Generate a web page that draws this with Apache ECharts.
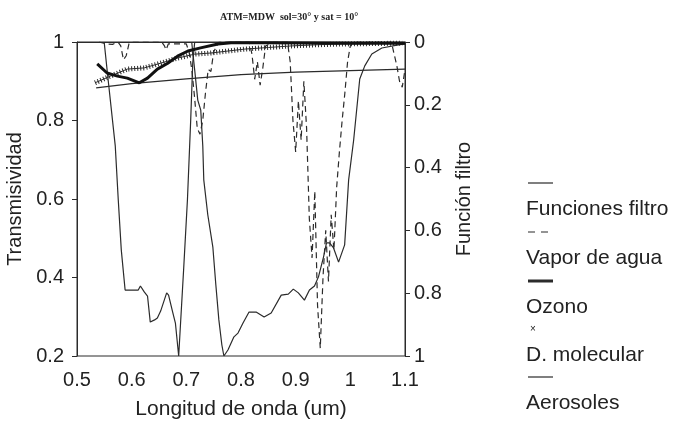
<!DOCTYPE html>
<html>
<head>
<meta charset="utf-8">
<script src="https://cdn.jsdelivr.net/npm/echarts@6/dist/echarts.min.js"></script>
<style>
  html, body { margin: 0; padding: 0; background: #fff; }
  #chart { width: 675px; height: 428px; }
</style>
</head>
<body>
<div id="chart"></div>
<script>
// ejes
const xTickLabels = ['0.5', '0.6', '0.7', '0.8', '0.9', '1', '1.1']
const yLeftTickLabels = ['0.2', '0.4', '0.6', '0.8', '1']
const yRightTickLabels = ['0', '0.2', '0.4', '0.6', '0.8', '1']

// funciones filtro (eje derecho, invertido)
const wlFiltro1 = [0.5497, 0.557, 0.570, 0.5755, 0.581, 0.588, 0.612, 0.616, 0.623, 0.629, 0.634, 0.642,
  0.647, 0.653, 0.664, 0.6675, 0.675, 0.680, 0.686, 0.695, 0.702, 0.708, 0.7117, 0.7153]
const filtro1 = [0, 0.121, 0.331, 0.503, 0.662, 0.790, 0.790, 0.777, 0.796, 0.809, 0.892, 0.885,
  0.879, 0.857, 0.799, 0.806, 0.860, 0.895, 1.0, 0.726, 0.503, 0.248, 0.067, 0]

const wlFiltro2 = [0.7098, 0.7153, 0.7209, 0.7264, 0.7301, 0.7319, 0.7393, 0.7485, 0.754, 0.7595, 0.765,
  0.7687, 0.7761, 0.7871, 0.7945, 0.8037, 0.8147, 0.8276, 0.8423, 0.8552, 0.8736, 0.8865, 0.8957, 0.9049,
  0.916, 0.9252, 0.9344, 0.9417, 0.9509, 0.9564, 0.962, 0.9693, 0.9785, 0.9896, 0.9969, 1.0061, 1.0172,
  1.0264, 1.0393, 1.0577, 1.0853, 1.1]
const filtro2 = [0, 0.089, 0.185, 0.217, 0.331, 0.439, 0.551, 0.653, 0.774, 0.885, 0.965,
  1.0, 0.981, 0.939, 0.927, 0.895, 0.860, 0.860, 0.876, 0.863, 0.806, 0.803, 0.787, 0.799,
  0.822, 0.790, 0.777, 0.748, 0.685, 0.640, 0.640, 0.656, 0.701, 0.646, 0.439, 0.312, 0.118,
  0.076, 0.038, 0.019, 0.010, 0.006]

// transmisividad vapor de agua
const wlVapor = [0.54, 0.555, 0.565, 0.575, 0.58, 0.585, 0.59, 0.595, 0.60, 0.655, 0.66, 0.663, 0.667, 0.67,
  0.70, 0.705, 0.71, 0.715, 0.72, 0.725, 0.73, 0.735, 0.74, 0.745, 0.75, 0.76, 0.815, 0.82, 0.825, 0.83,
  0.835, 0.84, 0.845, 0.86, 0.885, 0.89, 0.895, 0.90, 0.905, 0.91, 0.915, 0.92, 0.925, 0.93, 0.935, 0.94,
  0.945, 0.95, 0.955, 0.96, 0.965, 0.97, 0.975, 0.98, 0.985, 0.99, 0.995, 1.0, 1.005, 1.075, 1.08, 1.085,
  1.09, 1.095, 1.1]
const vapor = [1, 0.995, 0.994, 1, 0.99, 0.955, 0.965, 0.995, 1, 1, 0.99, 0.98, 0.995, 1,
  0.995, 0.975, 0.93, 0.86, 0.78, 0.765, 0.80, 0.87, 0.93, 0.925, 0.975, 1, 1, 0.97, 0.905, 0.95,
  0.89, 0.935, 0.99, 1, 1, 0.95, 0.80, 0.72, 0.85, 0.75, 0.90, 0.78, 0.55, 0.45, 0.62, 0.33,
  0.22, 0.40, 0.52, 0.39, 0.56, 0.47, 0.63, 0.72, 0.80, 0.87, 0.95, 0.99, 1, 1, 0.97, 0.94,
  0.90, 0.885, 0.93]

// ozono
const wlOzono = [0.537, 0.555, 0.574, 0.592, 0.614, 0.629, 0.647, 0.666, 0.684, 0.703, 0.726, 0.758, 0.782, 0.85, 1.0, 1.1]
const ozono = [0.944, 0.921, 0.913, 0.908, 0.896, 0.908, 0.931, 0.946, 0.964, 0.977, 0.985, 0.995, 0.998, 0.998, 0.997, 0.997]

// dispersion molecular
const wlMolecular = [0.533, 0.561, 0.592, 0.623, 0.653, 0.684, 0.715, 0.745, 0.776, 0.807, 0.85, 0.892, 0.94, 0.984, 1.04, 1.095]
const molecular = [0.896, 0.913, 0.931, 0.934, 0.946, 0.959, 0.969, 0.972, 0.977, 0.982, 0.986, 0.990, 0.993, 0.995, 0.996, 0.997]

// aerosoles
const wlAerosol = [0.535, 0.6, 0.7, 0.8, 0.9, 1.0, 1.1]
const aerosol = [0.883, 0.894, 0.906, 0.917, 0.923, 0.927, 0.931]

const zip = (xs, ys) => xs.map((x, i) => [x, ys[i]])

const ink = '#2b2b2b'
const txt = '#222'
const sans = 'Liberation Sans'

// leyenda dibujada a mano: icono encima del texto
const legendItems = [
  { name: 'Funciones filtro', icon: 'line', y: 183 },
  { name: 'Vapor de agua', icon: 'dash', y: 232 },
  { name: 'Ozono', icon: 'thick', y: 281 },
  { name: 'D. molecular', icon: 'cross', y: 329 },
  { name: 'Aerosoles', icon: 'line', y: 377 }
]
const legendGraphic = []
legendItems.forEach(it => {
  if (it.icon === 'cross') {
    legendGraphic.push({
      type: 'text', x: 530, y: it.y,
      style: { text: '×', fontSize: 10, fontFamily: sans, fill: txt, verticalAlign: 'middle' }
    })
  } else {
    legendGraphic.push({
      type: 'line',
      shape: { x1: 528, y1: it.y, x2: 553, y2: it.y },
      style: {
        stroke: ink,
        lineWidth: it.icon === 'thick' ? 3 : 1.2,
        lineDash: it.icon === 'dash' ? [7, 6] : null
      }
    })
  }
  legendGraphic.push({
    type: 'text', x: 526, y: it.y + 26,
    style: { text: it.name, fontSize: 21, fontFamily: sans, fill: txt, verticalAlign: 'middle' }
  })
})

const chart = echarts.init(document.getElementById('chart'))

chart.setOption({
  backgroundColor: '#fff',
  animation: false,
  title: {
    text: 'ATM=MDW  sol=30° y sat = 10°',
    left: 215,
    top: 7,
    textStyle: { fontFamily: 'Liberation Serif', fontWeight: 'bold', fontSize: 10, color: txt }
  },
  grid: {
    left: 77, right: 270, top: 42, bottom: 72,
    show: true, borderColor: ink, borderWidth: 1
  },
  xAxis: {
    type: 'value',
    min: 0.5, max: 1.1, interval: 0.1,
    name: 'Longitud de onda (um)',
    nameLocation: 'middle',
    nameGap: 43,
    nameTextStyle: { fontFamily: sans, fontSize: 21, color: txt },
    axisLine: { lineStyle: { color: ink } },
    axisTick: { show: false },
    splitLine: { show: false },
    axisLabel: {
      margin: 14, fontFamily: sans, fontSize: 20, color: txt,
      formatter: v => xTickLabels[Math.round((v - 0.5) / 0.1)]
    }
  },
  yAxis: [{
    type: 'value',
    min: 0.2, max: 1, interval: 0.2,
    name: 'Transmisividad',
    nameLocation: 'middle',
    nameRotate: 90,
    nameGap: 52,
    nameTextStyle: { fontFamily: sans, fontSize: 20, color: txt },
    axisLine: { show: true, lineStyle: { color: ink } },
    axisTick: { show: true, length: 5, lineStyle: { color: ink } },
    splitLine: { show: false },
    axisLabel: {
      margin: 13, fontFamily: sans, fontSize: 20, color: txt,
      formatter: v => yLeftTickLabels[Math.round((v - 0.2) / 0.2)]
    }
  }, {
    type: 'value',
    position: 'right',
    inverse: true,
    min: 0, max: 1, interval: 0.2,
    name: 'Función filtro',
    nameLocation: 'middle',
    nameRotate: 90,
    nameGap: 49,
    nameTextStyle: { fontFamily: sans, fontSize: 20, color: txt },
    axisLine: { show: true, lineStyle: { color: ink } },
    axisTick: { show: true, length: 5, lineStyle: { color: ink } },
    splitLine: { show: false },
    axisLabel: {
      margin: 9, fontFamily: sans, fontSize: 20, color: txt,
      formatter: v => yRightTickLabels[Math.round(v / 0.2)]
    }
  }],
  graphic: legendGraphic,
  series: [{
    name: 'Funciones filtro',
    type: 'line', yAxisIndex: 1, symbol: 'none',
    lineStyle: { color: ink, width: 1.2 },
    data: zip(wlFiltro1, filtro1)
  }, {
    name: 'Funciones filtro',
    type: 'line', yAxisIndex: 1, symbol: 'none',
    lineStyle: { color: ink, width: 1.2 },
    data: zip(wlFiltro2, filtro2)
  }, {
    name: 'Vapor de agua',
    type: 'line', symbol: 'none',
    lineStyle: { color: ink, width: 1.2, type: [6, 4] },
    data: zip(wlVapor, vapor)
  }, {
    name: 'Aerosoles',
    type: 'line', symbol: 'none',
    lineStyle: { color: ink, width: 1.2 },
    data: zip(wlAerosol, aerosol)
  }, {
    name: 'D. molecular',
    type: 'line', symbol: 'none',
    lineStyle: { color: ink, width: 1 },
    data: zip(wlMolecular, molecular)
  }, {
    // las cruces del original, como trama sobre la linea
    name: 'D. molecular',
    type: 'line', symbol: 'none',
    lineStyle: { color: ink, width: 5, type: [1, 2] },
    data: zip(wlMolecular, molecular)
  }, {
    name: 'Ozono',
    type: 'line', symbol: 'none',
    lineStyle: { color: '#111', width: 3 },
    data: zip(wlOzono, ozono)
  }]
})
</script>
</body>
</html>
